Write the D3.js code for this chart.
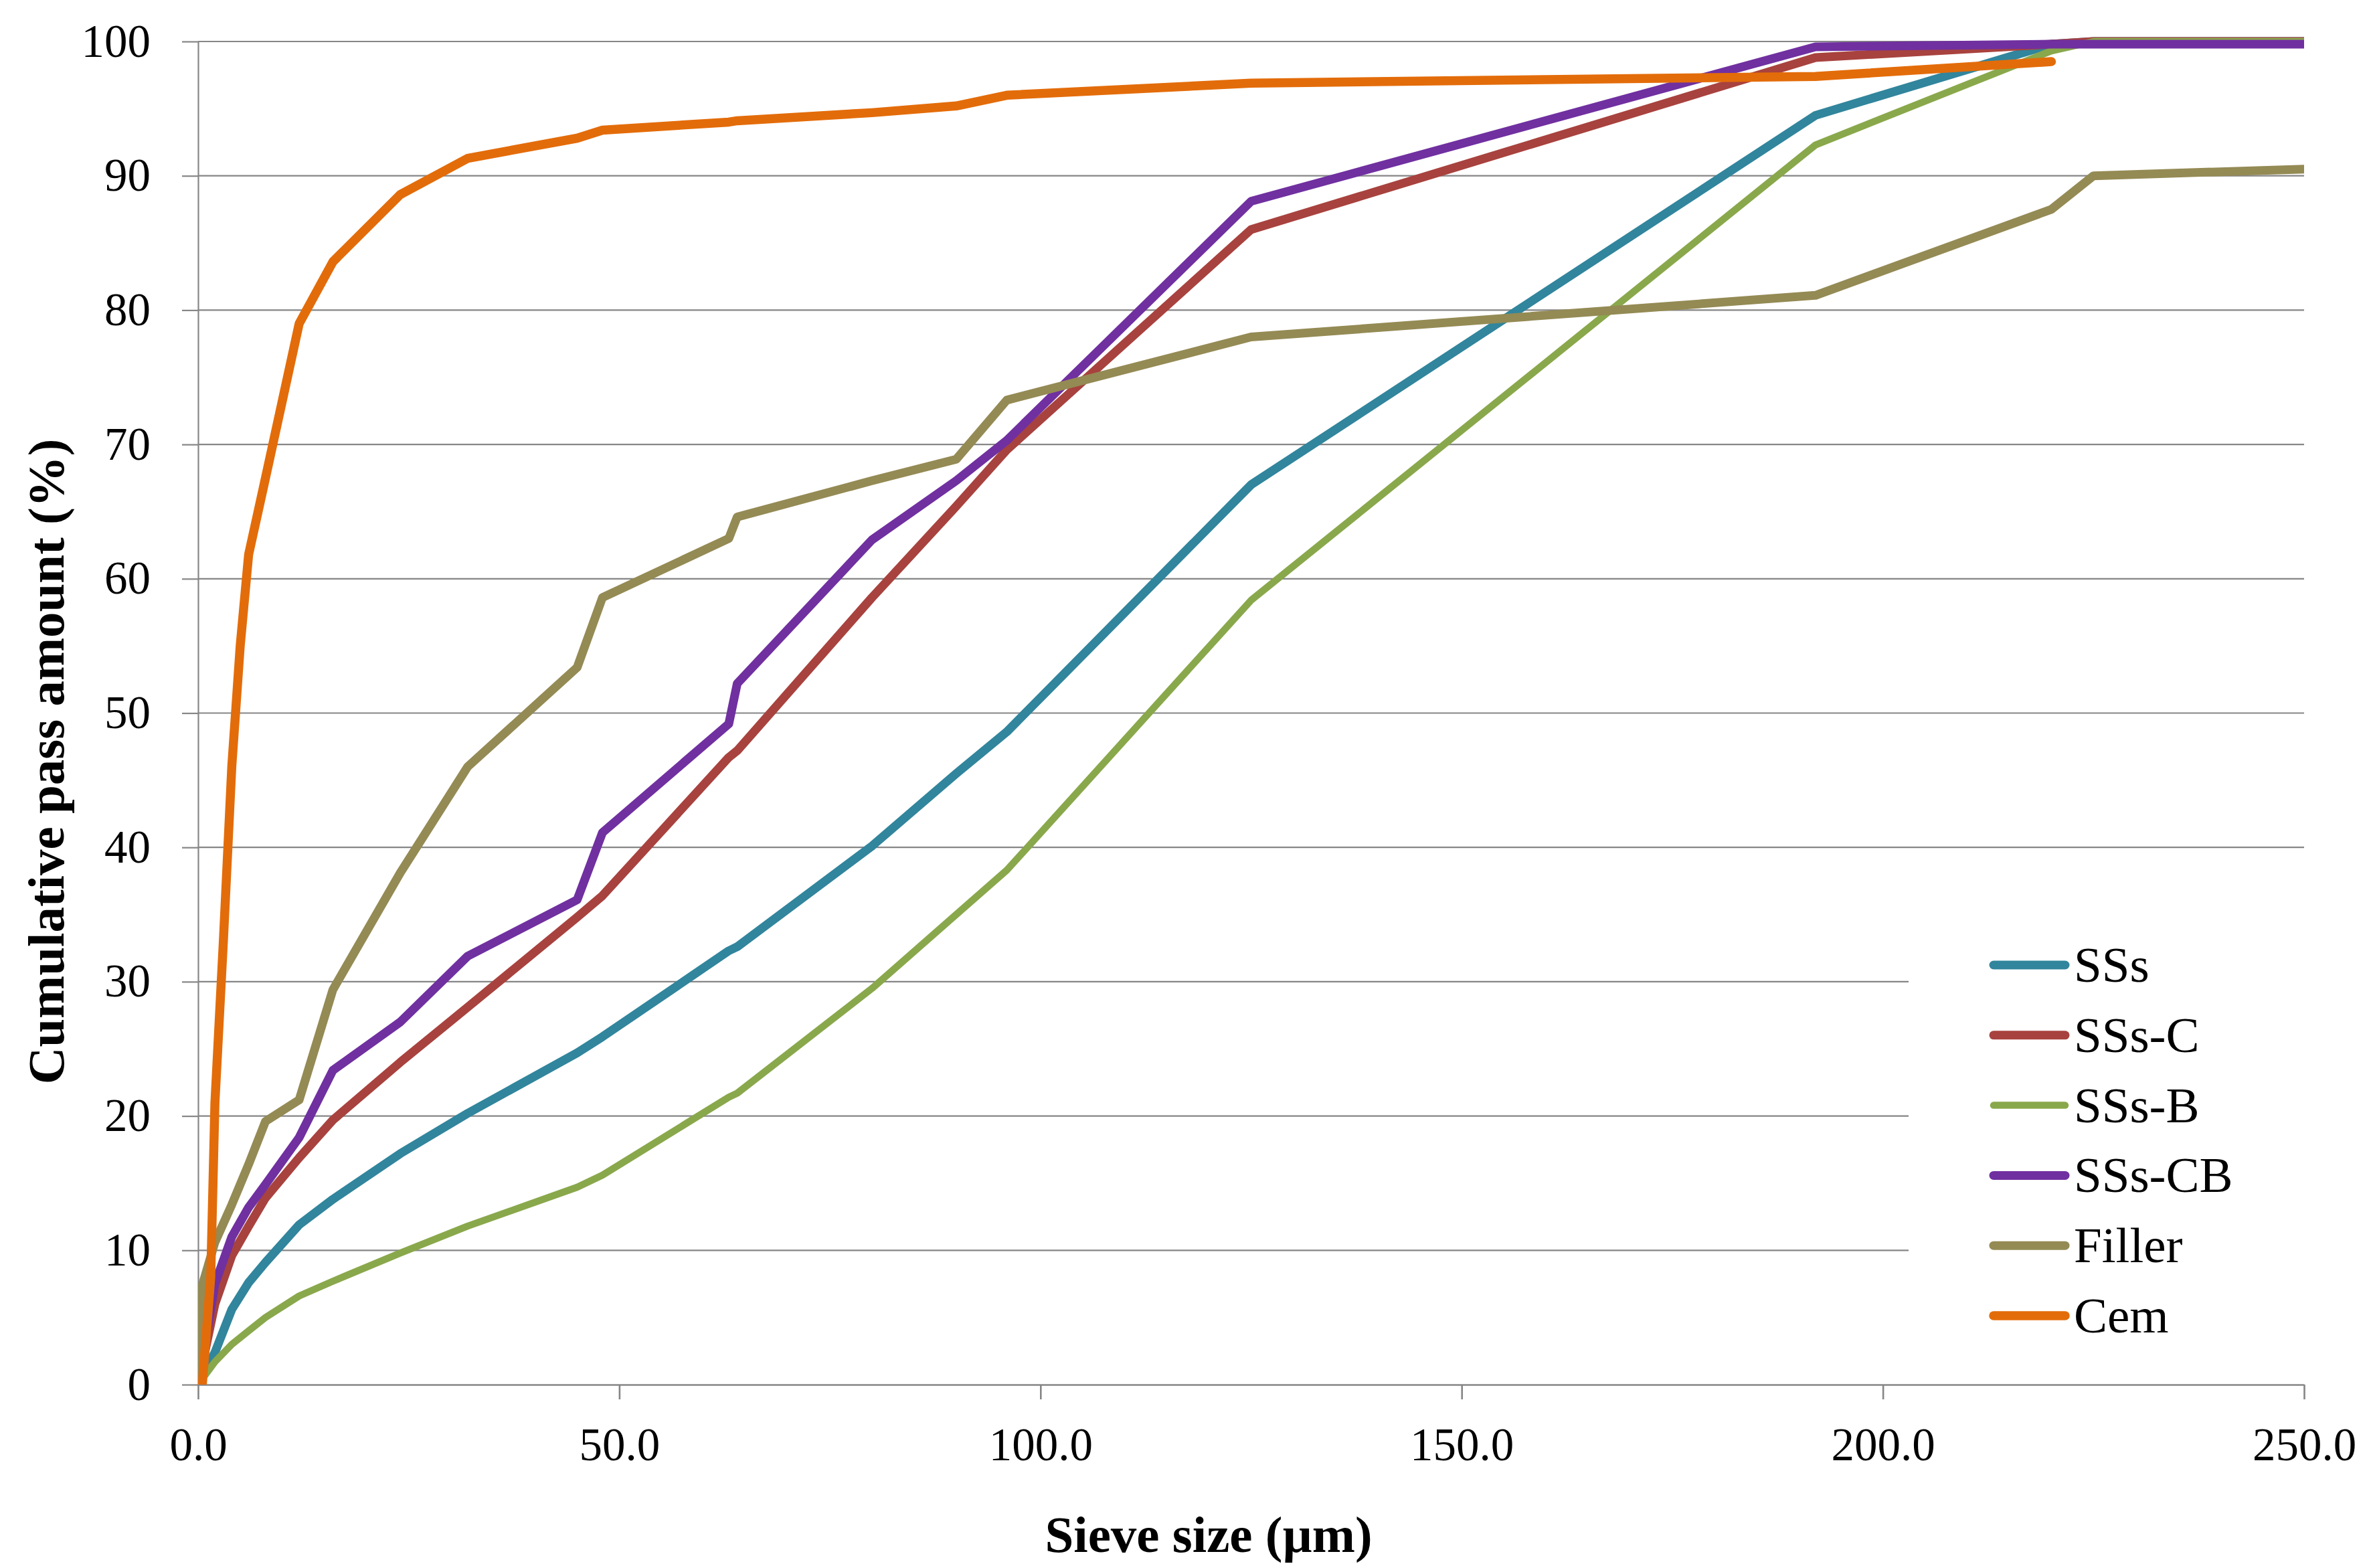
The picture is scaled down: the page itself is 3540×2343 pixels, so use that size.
<!DOCTYPE html>
<html>
<head>
<meta charset="utf-8">
<script src="https://cdn.jsdelivr.net/npm/d3@7"></script>
<style>
  html, body { margin: 0; padding: 0; background: #fff; }
  svg { display: block; }
</style>
</head>
<body>
<script>
// ---------------- DATA ----------------
const seriesNames = ["SSs", "SSs-C", "SSs-B", "SSs-CB", "Filler", "Cem"];
const seriesColors = ["#31859C", "#A8423E", "#89A84B", "#7030A0", "#948A54", "#E36C0A"];

const sizes = [0, 2, 4, 6, 8, 12, 16, 24, 32, 45, 48, 63, 64, 80, 90, 96, 125, 192, 220, 225, 250];
const ssS   = [0, 2.4, 5.6, 7.6, 9.1, 11.9, 13.8, 17.2, 20.2, 24.7, 25.9, 32.3, 32.6, 40.1, 45.5, 48.6, 67.0, 94.5, 99.8, 100, 100];
const ssC   = [0, 6.0, 9.6, 11.8, 13.9, 16.9, 19.7, 24.0, 28.1, 34.8, 36.4, 46.7, 47.2, 58.6, 65.4, 69.6, 86.0, 98.8, 99.8, 100, 100];
const ssB   = [0, 1.7, 3.0, 4.0, 5.0, 6.6, 7.7, 9.8, 11.8, 14.7, 15.6, 21.4, 21.7, 29.5, 35.0, 38.3, 58.4, 92.3, 99.3, 100, 100];
const ssCB  = [0, 7.5, 11.0, 13.2, 14.9, 18.4, 23.4, 27.0, 31.9, 36.1, 41.1, 49.2, 52.2, 62.9, 67.3, 70.3, 88.1, 99.6, 99.8, 99.8, 99.8];

const fillerSizes = [0, 0.5, 2, 4, 6, 8, 12, 16, 24, 32, 45, 48, 63, 64, 80, 90, 96, 125, 192, 220, 225, 250];
const filler      = [0, 7.4, 10.6, 13.4, 16.4, 19.6, 21.2, 29.4, 38.1, 46.0, 53.4, 58.6, 63.0, 64.6, 67.3, 68.9, 73.3, 78.0, 81.1, 87.5, 90.0, 90.5];

const cemSizes = [0.5, 1.5, 2, 3, 4, 5, 6, 8, 12, 16, 24, 32, 45, 48, 63, 64, 80, 90, 96, 125, 192, 220];
const cem      = [0, 8, 21, 33, 46, 55, 61.8, 67.5, 79.0, 83.6, 88.6, 91.3, 92.8, 93.4, 94.0, 94.1, 94.7, 95.2, 96.0, 96.9, 97.4, 98.5];

const yTicks = [0, 10, 20, 30, 40, 50, 60, 70, 80, 90, 100];
const xTicks = [0, 50, 100, 150, 200, 250];
const xTitle = "Sieve size (µm)";
const yTitle = "Cumulative pass amount (%)";

// ---------------- LAYOUT ----------------
const W = 3540, H = 2343;
const plotL = 296, plotR = 3443, plotT = 62, plotB = 2069;
const gray = "#868686";
const font = "'Liberation Serif', 'Times New Roman', serif";

const x = d3.scaleLinear().domain([0, 250]).range([plotL, plotR]);
const y = d3.scaleLinear().domain([0, 100]).range([plotB, plotT]);

const svg = d3.select("body").append("svg")
  .attr("width", W).attr("height", H)
  .attr("viewBox", `0 0 ${W} ${H}`);

svg.append("rect").attr("width", W).attr("height", H).attr("fill", "#fff");

// gridlines
svg.append("g").selectAll("line").data(yTicks.filter(d => d > 0)).join("line")
  .attr("x1", plotL).attr("x2", plotR)
  .attr("y1", d => y(d)).attr("y2", d => y(d))
  .attr("stroke", gray).attr("stroke-width", 2.2);

// y axis
const yAxis = svg.append("g").attr("transform", `translate(${plotL},0)`)
  .call(d3.axisLeft(y).tickValues(yTicks).tickFormat(d3.format("d"))
    .tickSize(24).tickSizeOuter(0).tickPadding(47));
yAxis.selectAll("path, line").attr("stroke", gray).attr("stroke-width", 2.2);
yAxis.selectAll("text").attr("font-family", font).attr("font-size", 69).attr("fill", "#000");

// x axis
const xAxis = svg.append("g").attr("transform", `translate(0,${plotB})`)
  .call(d3.axisBottom(x).tickValues(xTicks).tickFormat(d3.format(".1f"))
    .tickSize(22).tickSizeOuter(0).tickPadding(42));
xAxis.selectAll("path, line").attr("stroke", gray).attr("stroke-width", 2.6);
xAxis.selectAll("text").attr("font-family", font).attr("font-size", 69).attr("fill", "#000");

// clip
svg.append("clipPath").attr("id", "plotClip").append("rect")
  .attr("x", plotL).attr("y", 0).attr("width", plotR - plotL).attr("height", plotB);

const seriesData = [
  { xs: sizes, ys: ssS, w: 13 },
  { xs: sizes, ys: ssC, w: 13 },
  { xs: sizes, ys: ssB, w: 10.5 },
  { xs: sizes, ys: ssCB, w: 13 },
  { xs: fillerSizes, ys: filler, w: 13 },
  { xs: cemSizes, ys: cem, w: 13.5 }
];

const line = d3.line().x(d => x(d[0])).y(d => y(d[1]));
const lines = svg.append("g").attr("clip-path", "url(#plotClip)");
seriesData.forEach((s, i) => {
  lines.append("path")
    .datum(s.xs.map((v, k) => [v, s.ys[k]]))
    .attr("d", line)
    .attr("fill", "none")
    .attr("stroke", seriesColors[i])
    .attr("stroke-width", s.w)
    .attr("stroke-linejoin", "round")
    .attr("stroke-linecap", "round");
});

// legend
const lg = svg.append("g");
lg.append("rect").attr("x", 2852).attr("y", 1385).attr("width", plotR - 2852).attr("height", 640).attr("fill", "#fff");
const legStart = 1442, legStep = 104.8;
seriesNames.forEach((name, i) => {
  const cy = legStart + i * legStep;
  lg.append("line").attr("x1", 2979).attr("x2", 3086).attr("y1", cy).attr("y2", cy)
    .attr("stroke", seriesColors[i]).attr("stroke-width", seriesData[i].w)
    .attr("stroke-linecap", "round");
  lg.append("text").attr("x", 3099).attr("y", cy + 25)
    .attr("font-family", font).attr("font-size", 75).attr("fill", "#000")
    .text(name);
});

// axis titles
svg.append("text").attr("x", 1806).attr("y", 2319)
  .attr("text-anchor", "middle").attr("font-family", font).attr("font-weight", "bold")
  .attr("font-size", 77).attr("fill", "#000").text(xTitle);

svg.append("text")
  .attr("transform", `translate(95,1138) rotate(-90)`)
  .attr("text-anchor", "middle").attr("font-family", font).attr("font-weight", "bold")
  .attr("font-size", 77).attr("fill", "#000").text(yTitle);
</script>
</body>
</html>
